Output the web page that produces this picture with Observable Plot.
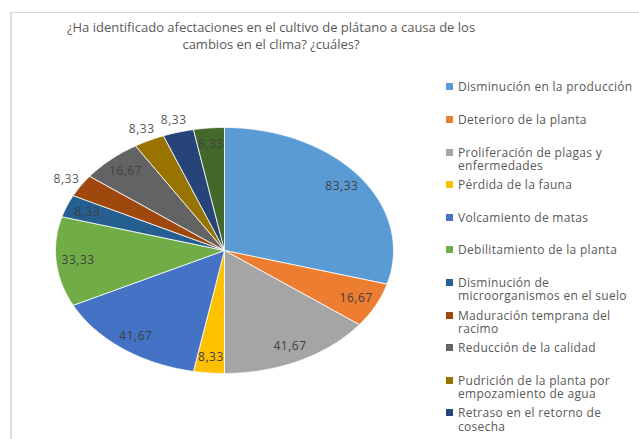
<!DOCTYPE html>
<html><head><meta charset="utf-8">
<script src="https://cdn.jsdelivr.net/npm/d3@7"></script>
<script src="https://cdn.jsdelivr.net/npm/@observablehq/plot@0.6"></script>
<style>
html,body{margin:0;padding:0;background:#fff;}
#wrap{position:relative;width:639px;height:439px;overflow:hidden;font-family:"Open Sans",sans-serif;background:#fff;}
#frame{position:absolute;left:10px;top:12px;width:700px;height:500px;border-top:1px solid #d9d9d9;border-left:2px solid #dedede;}
#chart{position:absolute;left:0;top:0;}
#chart text{letter-spacing:0.5px;}
#title{position:absolute;left:21px;width:500px;top:19px;text-align:center;color:#595959;font-size:13px;line-height:17px;}
#legend{position:absolute;left:0;top:0;}
.item{position:absolute;left:446px;font-size:12px;letter-spacing:0.3px;line-height:13.5px;color:#595959;white-space:pre;}
.sw{position:absolute;left:0;top:3px;width:7px;height:7px;}
.lt{position:absolute;left:12px;top:0;}
</style></head>
<body>
<div id="wrap">
  <div id="frame"></div>
  <div id="chart"></div>
  <div id="title"></div>
  <div id="legend"></div>
</div>
<script>
const titleLines = ["¿Ha identificado afectaciones en el cultivo de plátano a causa de los", "cambios en el clima? ¿cuáles?"];
const categories = [
  "Disminución en la producción",
  "Deterioro de la planta",
  "Proliferación de plagas y enfermedades",
  "Pérdida de la fauna",
  "Volcamiento de matas",
  "Debilitamiento de la planta",
  "Disminución de microorganismos en el suelo",
  "Maduración temprana del racimo",
  "Reducción de la calidad",
  "Pudrición de la planta por empozamiento de agua",
  "Retraso en el retorno de cosecha",
  "Otras afectaciones"
];
const legendLabels = [
  "Disminución en la producción",
  "Deterioro de la planta",
  "Proliferación de plagas y\nenfermedades",
  "Pérdida de la fauna",
  "Volcamiento de matas",
  "Debilitamiento de la planta",
  "Disminución de\nmicroorganismos en el suelo",
  "Maduración temprana del\nracimo",
  "Reducción de la calidad",
  "Pudrición de la planta por\nempozamiento de agua",
  "Retraso en el retorno de\ncosecha",
  "Otras afectaciones"
];
const values = [83.33, 16.67, 41.67, 8.33, 41.67, 33.33, 8.33, 8.33, 16.67, 8.33, 8.33, 8.33];
const colors = ["#5B9BD5", "#ED7D31", "#A5A5A5", "#FFC000", "#4472C4", "#70AD47", "#255E91", "#9E480E", "#636363", "#997300", "#264478", "#43682B"];

// label placement (style): which labels sit outside the pie
const outsideLabels = new Set([7, 9, 10]);

document.getElementById("title").innerHTML = titleLines.join("<br>");

const total = d3.sum(values);
let acc = 0;
const slices = values.map((v, i) => {
  const a0 = acc / total * 2 * Math.PI; acc += v;
  const a1 = acc / total * 2 * Math.PI;
  return {i, cat: categories[i], v, a0, a1, mid: (a0 + a1) / 2};
});
const pts = [];
for (const s of slices) {
  pts.push({cat: s.cat, x: 0, y: 0});
  const n = Math.max(2, Math.ceil((s.a1 - s.a0) / (Math.PI / 360)));
  for (let k = 0; k <= n; k++) {
    const a = s.a0 + (s.a1 - s.a0) * k / n;
    pts.push({cat: s.cat, x: Math.sin(a), y: Math.cos(a)});
  }
  pts.push({cat: s.cat, x: 0, y: 0});
}
const fmt = v => v.toFixed(2).replace(".", ",");
const labelData = slices.map(s => {
  const out = outsideLabels.has(s.i);
  const r = out ? 1.1 : 0.87;
  return {x: r * Math.sin(s.mid), y: r * Math.cos(s.mid), t: fmt(s.v), out};
});

const chart = Plot.plot({
  width: 639, height: 439, margin: 0,
  style: {fontFamily: "'Open Sans', sans-serif", background: "transparent"},
  x: {domain: [-1, 1], range: [55, 393], axis: null},
  y: {domain: [-1, 1], range: [373, 127], axis: null},
  color: {domain: categories, range: colors},
  marks: [
    Plot.line(pts, {x: "x", y: "y", z: "cat", fill: "cat", stroke: "white", strokeWidth: 0.8, curve: "linear"}),
    Plot.text(labelData.filter(d => !d.out), {x: "x", y: "y", text: "t", fill: "#404040", fontSize: 12}),
    Plot.text(labelData.filter(d => d.out), {x: "x", y: "y", text: "t", fill: "#595959", fontSize: 12})
  ]
});
document.getElementById("chart").appendChild(chart);

const legend = document.getElementById("legend");
legendLabels.forEach((lab, i) => {
  const top = 80.3 + i * 32.6;
  if (top > 430) return; // beyond the visible frame, as in the reference
  const it = document.createElement("div");
  it.className = "item";
  it.style.top = top + "px";
  const sw = document.createElement("div");
  sw.className = "sw"; sw.style.background = colors[i];
  const lt = document.createElement("div");
  lt.className = "lt"; lt.textContent = lab;
  it.appendChild(sw); it.appendChild(lt);
  legend.appendChild(it);
});
</script>
</body></html>
